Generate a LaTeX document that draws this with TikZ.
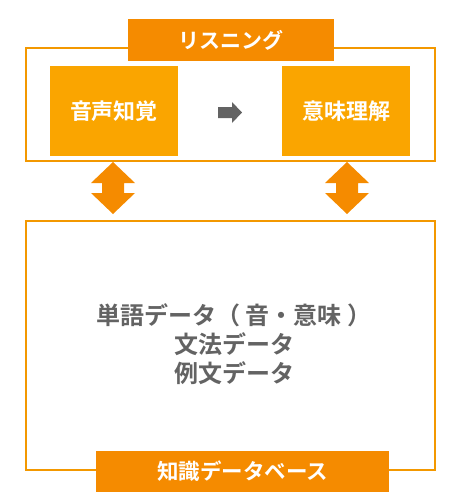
\documentclass[tikz,border=0pt]{standalone}
\usepackage{fontspec}
\newfontfamily\jp{Noto Sans CJK JP}[BoldFont={Noto Sans CJK JP Bold}]
\definecolor{frameor}{HTML}{F39800}
\definecolor{darkor}{HTML}{F58B00}
\definecolor{lightor}{HTML}{FAA500}
\definecolor{txtgray}{HTML}{636363}
\begin{document}
\begin{tikzpicture}[x=1pt,y=-1pt,
  frame/.style={draw=frameor,line width=1.5pt},
  labelbox/.style={fill=darkor,text=white,font=\jp\bfseries\fontsize{21}{24}\selectfont,inner sep=0pt},
  stagebox/.style={fill=lightor,text=white,font=\jp\bfseries\fontsize{22}{26}\selectfont,inner sep=0pt},
]
\useasboundingbox (0,0) rectangle (448,504);
% frames
\draw[frame] (26,48) rectangle (435,161);
\draw[frame] (26,221) rectangle (435,470);
% title
\path[labelbox] (128,19) rectangle (334,61);
\node[labelbox,fill=none] (title) at (231,40) {リスニング};
% stages
\path[stagebox] (50,66) rectangle (178,156);
\node[stagebox,fill=none] (s1) at (114,111) {音声知覚};
\path[stagebox] (282,66) rectangle (410,156);
\node[stagebox,fill=none] (s2) at (346,111) {意味理解};
% gray arrow
\fill[txtgray] (218,107) -- (232,107) -- (232,102) -- (242,112.5) -- (232,123) -- (232,118) -- (218,118) -- cycle;
% double arrows
\foreach \cx in {113,347}{
  \fill[darkor] (\cx,162) -- (\cx+22,183) -- (\cx+11,183) -- (\cx+11,193) -- (\cx+22,193) -- (\cx,214) -- (\cx-22,193) -- (\cx-11,193) -- (\cx-11,183) -- (\cx-22,183) -- cycle;
}
% knowledge
\node[text=txtgray,font=\jp\bfseries\fontsize{24}{29}\selectfont,align=center] (kb) at (234,344) {単語データ（\kern6pt 音・意味\kern6pt ）\\文法データ\\例文データ};
\path[labelbox] (96,451) rectangle (389,492);
\node[labelbox,fill=none,font=\jp\bfseries\fontsize{21.5}{24}\selectfont] (kbl) at (242.5,471.5) {知識データベース};
\end{tikzpicture}
\end{document}
